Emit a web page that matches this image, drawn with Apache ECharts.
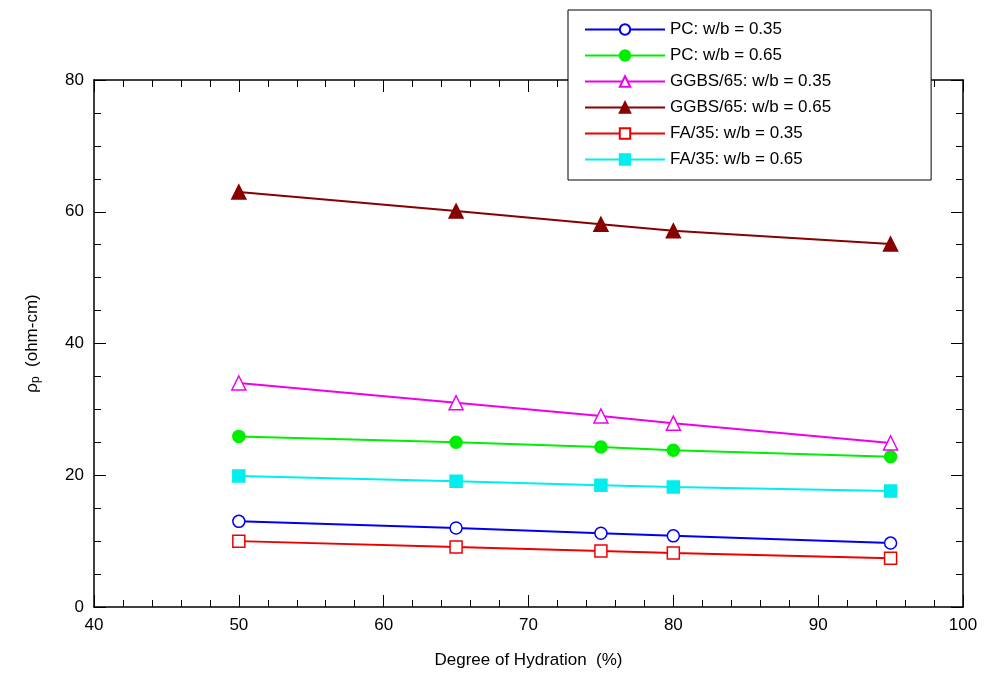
<!DOCTYPE html>
<html>
<head>
<meta charset="utf-8">
<script src="https://cdn.jsdelivr.net/npm/echarts@6/dist/echarts.min.js"></script>
<style>html,body{margin:0;background:#fff}#c{width:987px;height:689px}</style>
</head>
<body>
<div id="c"></div>
<script>
// degree of hydration (%)
const hydration = [50, 65, 75, 80, 95];
const pc035 = [13.0, 12.0, 11.2, 10.8, 9.7];
const pc065 = [25.9, 25.0, 24.3, 23.8, 22.8];
const ggbs035 = [34.0, 31.0, 29.0, 27.9, 24.9];
const ggbs065 = [63.0, 60.1, 58.1, 57.1, 55.1];
const fa035 = [10.0, 9.1, 8.5, 8.2, 7.4];
const fa065 = [19.9, 19.1, 18.5, 18.2, 17.6];
const names = ['PC: w/b = 0.35', 'PC: w/b = 0.65', 'GGBS/65: w/b = 0.35', 'GGBS/65: w/b = 0.65', 'FA/35: w/b = 0.35', 'FA/35: w/b = 0.65'];

const chart = echarts.init(document.getElementById('c'));
const font = 'Liberation Sans, Arial, sans-serif';

function mk(name, vals, color, symbol, hollow) {
    return {
        name: name, type: 'line', xAxisIndex: 0, yAxisIndex: 0,
        data: hydration.map((h, i) => [h, vals[i]]),
        symbol: symbol, symbolSize: symbol === 'triangle' ? 14 : 12,
        lineStyle: {color: color, width: 2},
        itemStyle: {color: hollow ? '#fff' : color, borderColor: color, borderWidth: 1.5},
        emphasis: {disabled: true}
    };
}

function ax(extra, split) {
    return Object.assign({
        type: 'value',
        axisLine: {show: true, onZero: false, lineStyle: {color: '#000', width: 1.5}},
        axisTick: {show: true, inside: true, length: 12, lineStyle: {color: '#000'}},
        minorTick: {show: true, splitNumber: split, length: 7, lineStyle: {color: '#000'}},
        splitLine: {show: false}
    }, extra);
}

option = {
    animation: false,
    grid: {left: 94, right: 24, top: 80, bottom: 82},
    legend: {
        orient: 'vertical', left: 568, top: 10, itemGap: 9,
        itemWidth: 80, itemHeight: 13,
        borderColor: '#000', borderWidth: 1, padding: [11, 100, 12, 16],
        backgroundColor: '#fff',
        lineStyle: {width: 2},
        textStyle: {fontFamily: font, fontSize: 17, color: '#000'},
        data: names
    },
    xAxis: [
        ax({min: 40, max: 100, interval: 10,
            name: 'Degree of Hydration  (%)', nameLocation: 'middle', nameGap: 45,
            nameTextStyle: {fontFamily: font, fontSize: 17, color: '#000'},
            axisLabel: {fontFamily: font, fontSize: 17, color: '#000', margin: 10}}, 5),
        ax({position: 'top', min: 40, max: 100, interval: 10, axisLabel: {show: false}}, 5)
    ],
    yAxis: [
        ax({min: 0, max: 80, interval: 20,
            name: '{r|ρ}{s|p}{r|  (ohm-cm)}', nameLocation: 'middle', nameGap: 52, nameRotate: 90,
            nameTextStyle: {rich: {r: {fontFamily: font, fontSize: 17, color: '#000'}, s: {fontFamily: font, fontSize: 12, color: '#000', verticalAlign: 'bottom', padding: [8, 0, 0, 0]}}},
            axisLabel: {fontFamily: font, fontSize: 17, color: '#000', margin: 10}}, 4),
        ax({position: 'right', min: 0, max: 80, interval: 20, axisLabel: {show: false}}, 4)
    ],
    series: [
        mk(names[0], pc035, '#0000ee', 'circle', true),
        mk(names[1], pc065, '#00ee00', 'circle', false),
        mk(names[2], ggbs035, '#ee00ee', 'triangle', true),
        mk(names[3], ggbs065, '#880000', 'triangle', false),
        mk(names[4], fa035, '#ee0000', 'rect', true),
        mk(names[5], fa065, '#00eeee', 'rect', false),
        {type: 'line', xAxisIndex: 1, yAxisIndex: 1, data: [], silent: true}
    ]
};
chart.setOption(option);
</script>
</body>
</html>
